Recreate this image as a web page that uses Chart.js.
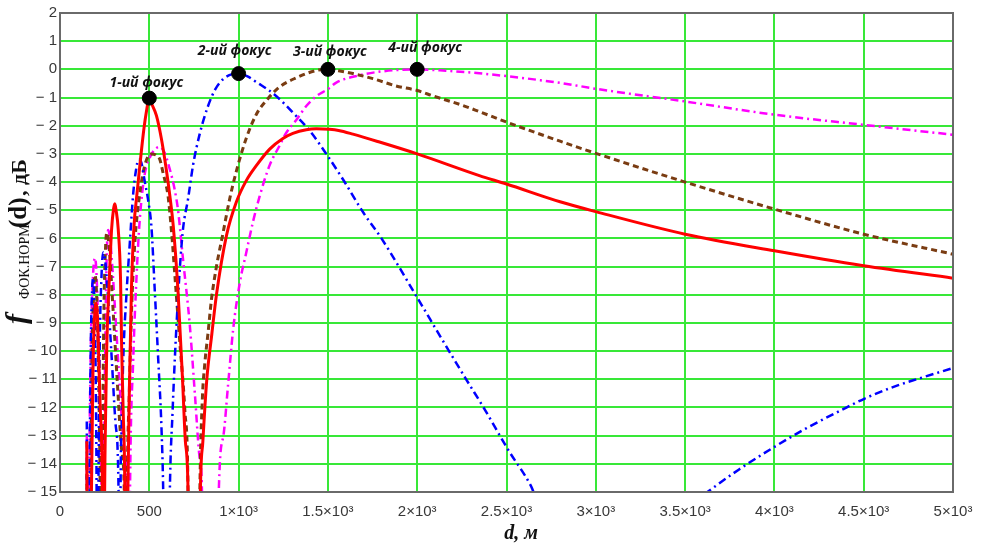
<!DOCTYPE html>
<html>
<head>
<meta charset="utf-8">
<script src="https://cdn.jsdelivr.net/npm/chart.js@4.4.1/dist/chart.umd.min.js"></script>
<style>
  html, body { margin: 0; padding: 0; background: #fff; }
  #wrap { width: 984px; height: 543px; }
</style>
</head>
<body>
<div id="wrap"><canvas id="focusChart" width="984" height="543"></canvas></div>
<script>
// axis ticks
const xTickValues = [0, 500, 1000, 1500, 2000, 2500, 3000, 3500, 4000, 4500, 5000];
const xTickLabels = ['0', '500', '1×10³', '1.5×10³', '2×10³', '2.5×10³', '3×10³', '3.5×10³', '4×10³', '4.5×10³', '5×10³'];
const yTickValues = [-15, -14, -13, -12, -11, -10, -9, -8, -7, -6, -5, -4, -3, -2, -1, 0, 1, 2];
const yTickLabels = ['− 15', '− 14', '− 13', '− 12', '− 11', '− 10', '− 9', '− 8', '− 7', '− 6', '− 5', '− 4', '− 3', '− 2', '− 1', '0', '1', '2'];

// 1st focus (500 m) - red solid
const redD = [150, 155, 170, 176, 185, 195, 203, 212, 225, 238, 242, 246, 250, 256, 262, 276, 289, 300, 307, 314, 326, 339, 345, 354, 363, 367,
  374, 380, 388, 400, 414, 432, 447, 470, 485, 500, 515, 540, 568, 592, 615, 634, 661, 686, 702, 717, 723,
  778, 786, 800, 822, 850, 876, 932, 988, 1043, 1099, 1174, 1248, 1304, 1379, 1435, 1509, 1560, 1640, 1789, 2000, 2348, 2500, 2800, 3000, 3500, 4000, 4500, 5000];
const redY = [-13.2, -20, -20, -15, -10.5, -8.6, -8.3, -9.2, -12, -15, -20, -20, -15, -12, -9.8, -7.45, -5.67, -4.95, -4.77, -5.0, -5.67, -7.45, -9.8, -12.2, -15, -20,
  -20, -15, -11.5, -7.8, -5.6, -4.36, -3.42, -2.1, -1.45, -1.0, -1.25, -1.64, -2.47, -3.42, -4.48, -5.55, -7.9, -11, -13.2, -15, -20,
  -20, -15, -13.2, -11, -9.4, -8.0, -5.9, -4.7, -3.95, -3.42, -2.83, -2.45, -2.27, -2.14, -2.11, -2.13, -2.17, -2.3, -2.58, -3.0, -3.77, -4.07, -4.7, -5.05, -5.85, -6.44, -6.97, -7.41];

// 2nd focus (1000 m) - blue dash-dot
const blueD = [150, 154, 160, 165, 172, 180, 186, 193, 200, 205, 208, 211, 215, 222, 232, 242, 255, 270, 290, 310, 328, 333,
  336, 339, 345, 354, 373, 391, 410, 425, 440, 455, 475, 495, 512, 531, 550, 568, 578, 588,
  606, 615, 630, 645, 660, 675, 690, 717, 745, 782, 829, 870, 913, 960, 1000, 1050, 1099, 1202, 1314, 1397, 1491, 1584, 1700, 1800, 2000, 2150, 2274, 2381, 2509, 2638, 2700,
  3500, 3625, 3802, 4000, 4175, 4373, 4500, 4675, 4806, 5000];
const blueY = [-12.5, -20, -20, -15, -10, -7.8, -7.4, -8.5, -11, -15, -20, -20, -15, -10, -7.4, -6.5, -6.9, -8.2, -10.3, -12.5, -15, -20,
  -20, -15, -12.7, -10.3, -7.9, -6.15, -4.4, -3.6, -3.2, -3.3, -4.0, -4.7, -5.6, -7.9, -10.3, -12.7, -15, -20,
  -20, -15, -12.2, -10, -8.2, -6.7, -5.6, -4.6, -3.4, -2.3, -1.3, -0.7, -0.35, -0.18, -0.15, -0.25, -0.45, -0.9, -1.6, -2.17, -3.0, -3.9, -5.1, -6.0, -8.1, -9.7, -11, -12.1, -13.5, -14.8, -15.7,
  -15.6, -15, -14.2, -13.4, -12.75, -12.1, -11.7, -11.25, -10.98, -10.6];

// 3rd focus (1500 m) - brown dashed
const brownD = [150, 155, 165, 172, 180, 190, 196, 205, 215, 225, 230, 232, 237, 245, 254, 262, 275, 295, 320, 345, 360, 367,
  371, 376, 388, 401, 419, 447, 475, 510, 540, 559, 578, 605, 625, 643, 671, 699, 717, 723,
  775, 783, 797, 810, 829, 848, 876, 913, 950, 988, 1040, 1099, 1164, 1230, 1323, 1435, 1500, 1560, 1640, 1752, 1882, 2000, 2068, 2255, 2348, 2500, 2800, 3000, 3500, 4000, 4500, 5000];
const brownY = [-14, -20, -20, -15, -10, -7.8, -7.3, -8, -10.5, -15, -20, -20, -15, -9, -6.5, -5.8, -6.3, -8.3, -11, -13.5, -15, -20,
  -20, -15, -11.5, -8.5, -6.15, -4.4, -3.4, -3.0, -3.05, -3.2, -3.7, -4.5, -5.8, -7.3, -9.7, -12.1, -15, -20,
  -20, -15, -11.7, -10.5, -9.35, -8.17, -7.0, -5.8, -4.6, -3.6, -2.5, -1.6, -1.04, -0.62, -0.3, -0.04, 0, -0.05, -0.15, -0.33, -0.59, -0.75, -0.9, -1.28, -1.5, -1.87, -2.55, -2.98, -4.0, -4.96, -5.85, -6.56];

// 4th focus (2000 m) - magenta dash-dot
const magentaD = [150, 154, 158, 163, 172, 185, 196, 206, 218, 232, 237, 240, 245, 253, 262, 270, 283, 305, 330, 360, 378, 384,
  387, 392, 410, 429, 447, 475, 505, 530, 559, 585, 615, 640, 661, 689, 727, 755, 783, 795, 800,
  882, 889, 915, 941, 970, 1006, 1043, 1081, 1118, 1174, 1230, 1267, 1323, 1379, 1435, 1500, 1547, 1677, 1807, 2000, 2161, 2348, 2800, 3000, 3500, 4000, 4500, 5000];
const magentaY = [-13, -20, -20, -15, -10, -7.3, -6.7, -7.5, -10.5, -15, -20, -20, -15, -10, -6.5, -5.7, -6.2, -8.2, -10.8, -13.5, -15, -20,
  -20, -15, -10.3, -7.3, -5.3, -3.7, -3.1, -2.85, -2.75, -2.95, -3.55, -4.2, -5.0, -6.75, -9.1, -11.5, -13.85, -15, -20,
  -20, -15, -13, -11.2, -9.2, -7.6, -6.5, -5.4, -4.5, -3.4, -2.7, -2.25, -1.8, -1.3, -0.95, -0.7, -0.47, -0.21, -0.07, 0, -0.05, -0.14, -0.48, -0.69, -1.14, -1.61, -1.97, -2.32];

// focus points
const focusD = [500, 1000, 1500, 2000];
const focusY = [-1.02, -0.15, 0, 0];
const focusNames = ['1-ий фокус', '2-ий фокус', '3-ий фокус', '4-ий фокус'];
const focusLabelOffsets = [[-3, -15], [-4, -23], [2, -17], [8, -21]];

const sansFont = "'Liberation Sans', Arial, sans-serif";
const serifFont = "'Liberation Serif', 'Times New Roman', serif";
const gridGreen = '#38e838';

function toPoints(xs, ys) {
  return xs.map((x, i) => ({ x: x, y: ys[i] }));
}

function curve(label, xs, ys, color, width, dash) {
  return {
    label: label,
    data: toPoints(xs, ys),
    showLine: true,
    borderColor: color,
    backgroundColor: color,
    borderWidth: width,
    borderDash: dash,
    pointRadius: 0,
    cubicInterpolationMode: 'monotone',
    clip: 0
  };
}

const frameAndText = {
  id: 'frameAndText',
  afterDatasetsDraw(chart) {
    const ctx = chart.ctx;
    const a = chart.chartArea;
    ctx.save();

    // plot frame
    ctx.strokeStyle = '#6a6a6a';
    ctx.lineWidth = 2;
    ctx.strokeRect(a.left, a.top, a.right - a.left, a.bottom - a.top);

    // focus labels
    const dots = chart.getDatasetMeta(0).data;
    ctx.fillStyle = '#111';
    ctx.font = "bold italic 14px 'Open Sans', sans-serif";
    ctx.textAlign = 'center';
    ctx.textBaseline = 'middle';
    dots.forEach((p, i) => {
      ctx.fillText(focusNames[i], p.x + focusLabelOffsets[i][0], p.y + focusLabelOffsets[i][1]);
    });

    // x axis title
    ctx.font = 'bold italic 20px ' + serifFont;
    ctx.textAlign = 'center';
    ctx.textBaseline = 'alphabetic';
    ctx.fillText('d, м', 521, 539);

    // y axis title, rotated; each piece starts at a screen y
    ctx.translate(26, 0);
    ctx.rotate(-Math.PI / 2);
    ctx.textAlign = 'left';
    const parts = [
      ['f', 'bold italic 30px ' + serifFont, 324, 0],
      ['ФОК.НОРМ', '14px ' + serifFont, 299, 3],
      ['(d)', 'bold 25px ' + serifFont, 228, 0],
      [', дБ', 'bold 22px ' + serifFont, 196, 0]
    ];
    parts.forEach(([txt, font, startY, dy]) => {
      ctx.font = font;
      ctx.fillText(txt, -startY, dy);
    });
    ctx.restore();
  }
};

const ctx = document.getElementById('focusChart');
new Chart(ctx, {
  type: 'scatter',
  data: {
    datasets: [
      {
        label: 'фокусы',
        data: toPoints(focusD, focusY),
        pointRadius: 7,
        pointBackgroundColor: '#000',
        pointBorderColor: '#000',
        clip: false
      },
      curve('1', redD, redY, '#ff0000', 3, []),
      curve('2', blueD, blueY, '#0000ff', 2.5, [8, 4, 2, 4]),
      curve('3', brownD, brownY, '#7a3c12', 3, [6, 4]),
      curve('4', magentaD, magentaY, '#ff00ff', 2.5, [8, 4, 2, 4])
    ]
  },
  options: {
    responsive: false,
    animation: false,
    devicePixelRatio: 1,
    layout: { padding: { top: 13, right: 31, left: 0, bottom: 0 } },
    plugins: {
      legend: { display: false },
      tooltip: { enabled: false }
    },
    scales: {
      x: {
        type: 'linear',
        min: 0,
        max: 5000,
        afterBuildTicks: (scale) => { scale.ticks = xTickValues.map(v => ({ value: v })); },
        afterFit: (scale) => { scale.height = 51; },
        grid: { color: gridGreen, lineWidth: 2, drawTicks: false },
        border: { display: false },
        ticks: {
          autoSkip: false,
          maxRotation: 0,
          padding: 11,
          color: '#383838',
          font: { family: sansFont, size: 15 },
          callback: (v) => xTickLabels[xTickValues.indexOf(v)]
        }
      },
      y: {
        type: 'linear',
        min: -15,
        max: 2,
        afterBuildTicks: (scale) => { scale.ticks = yTickValues.map(v => ({ value: v })); },
        afterFit: (scale) => { scale.width = 60; },
        grid: { color: gridGreen, lineWidth: 2, drawTicks: false },
        border: { display: false },
        ticks: {
          autoSkip: false,
          padding: 3,
          color: '#383838',
          font: { family: sansFont, size: 15 },
          callback: (v) => yTickLabels[yTickValues.indexOf(v)]
        }
      }
    }
  },
  plugins: [frameAndText]
});
</script>
</body>
</html>
